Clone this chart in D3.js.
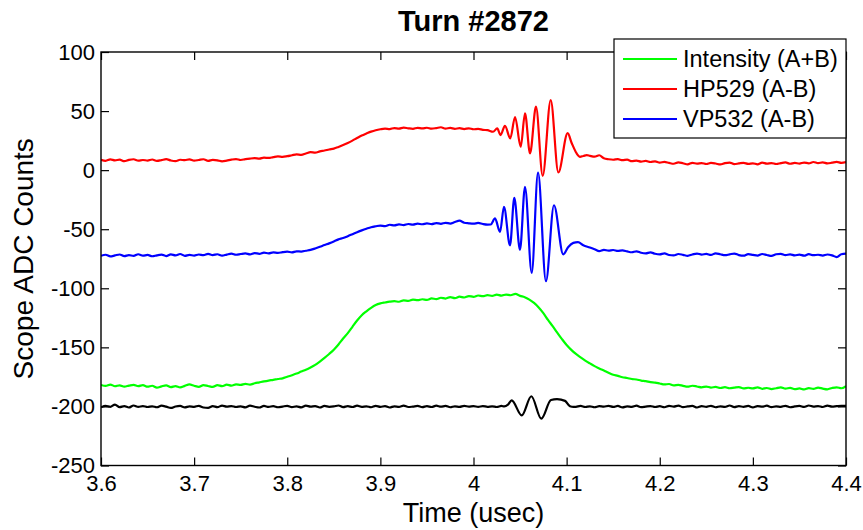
<!DOCTYPE html>
<html>
<head>
<meta charset="utf-8">
<script src="https://cdn.jsdelivr.net/npm/d3@7"></script>
<style>
  body { margin: 0; background: #fff; }
  svg { font-family: Arial, "Liberation Sans", sans-serif; }
</style>
</head>
<body>
<svg id="chart" width="863" height="530"></svg>
<script>
// scope samples: coarse record every 0.005 usec from 3.6, null where the burst detail takes over
const t0 = 3.6, dt = 0.005;

const xTicks = [3.6, 3.7, 3.8, 3.9, 4.0, 4.1, 4.2, 4.3, 4.4];
const yTicks = [100, 50, 0, -50, -100, -150, -200, -250];

const legendNames = ["Intensity (A+B)", "HP529 (A-B)", "VP532 (A-B)"];

const intensity = [
  -181.8, -182.6, -181.5, -182.9, -182.1, -183.2, -182.4, -181.7, -182.8, -182.0,
  -183.3, -182.5, -184.1, -183.0, -182.2, -183.6, -182.8, -183.9, -182.6, -181.4,
  -182.5, -183.4, -181.9, -182.7, -183.5, -182.0, -182.8, -181.6, -182.4, -181.3,
  -181.8, -180.9, -181.5, -180.4, -179.6, -178.8, -178.1, -177.5, -176.8, -176.2,
  -174.9, -173.6, -172.2, -170.5, -168.9, -167.0, -164.8, -162.0, -158.9, -155.6,
  -152.0, -147.6, -142.5, -138.0, -132.6, -127.3, -122.8, -119.5, -116.6, -114.2,
  -112.8, -112.0, -111.3, -110.9, -111.4, -110.2, -110.7, -109.6, -110.1, -109.3,
  -109.8, -108.6, -109.2, -108.0, -108.7, -107.5, -108.3, -107.1, -107.8, -106.6,
  -107.2, -106.1, -106.7, -105.8, -106.5, -105.4, -106.2, -105.3, -105.9, -104.8,
  -106.4, -107.5, -109.6, -112.4, -116.2, -121.0, -126.8, -132.0, -137.6, -143.0,
  -148.0, -152.1, -155.6, -158.5, -161.2, -163.6, -165.9, -167.8, -169.6, -171.5,
  -173.2, -174.1, -175.3, -175.9, -176.8, -177.2, -178.1, -178.6, -179.4, -179.8,
  -180.6, -181.4, -181.0, -182.2, -181.7, -182.6, -183.3, -182.5, -183.1, -183.8,
  -183.2, -184.0, -183.5, -184.4, -183.7, -184.6, -184.1, -183.6, -184.8, -184.2,
  -184.7, -183.9, -185.1, -184.4, -185.3, -184.6, -183.8, -185.0, -184.3, -185.4,
  -184.8, -185.6, -184.5, -185.2, -184.0, -184.9, -185.5, -184.4, -183.8, -184.6,
  -182.8
];

const hp529 = [
  8.8, 7.9, 9.1, 8.3, 8.9, 7.6, 8.7, 9.2, 8.0, 8.6,
  8.1, 9.0, 7.8, 8.5, 9.3, 8.2, 7.7, 8.8, 8.4, 9.1,
  8.0, 8.6, 9.2, 7.9, 8.7, 8.3, 7.5, 8.1, 8.9, 9.4,
  8.6, 9.3, 9.8, 10.1, 9.7, 10.6, 10.3, 11.0, 11.6, 11.2,
  11.8, 12.6, 13.4, 13.0, 14.1, 15.2, 14.8, 15.9, 16.6, 17.5,
  18.2, 19.6, 21.2, 23.0, 25.0, 27.2, 29.3, 31.0, 32.6, 33.8,
  34.6, 35.1, 34.8, 35.6, 35.2, 36.0, 35.4, 35.0, 35.8, 35.3,
  35.9, 35.1, 35.6, 36.3, 35.2, 35.7, 35.0, 35.5, 34.8, 35.4,
  34.6, 34.9, 34.1, null, null, null, null, null, null, null,
  null, null, null, null, null, null, null, null, null, null,
  null, null, null, null, null, 12.1, 11.4, 12.6, 10.0, 9.2,
  8.8, 9.3, 8.4, 8.9, 7.6, 8.1, 7.2, 7.8, 6.9, 7.4,
  6.3, 7.0, 6.1, 5.4, 6.6, 5.8, 4.9, 6.2, 5.5, 6.0,
  5.2, 6.1, 5.6, 4.8, 5.9, 6.4, 5.1, 5.7, 6.2, 5.3,
  5.8, 4.9, 6.3, 5.5, 6.0, 5.2, 5.9, 6.5, 5.4, 6.1,
  5.6, 6.4, 5.8, 6.9, 5.9, 6.6, 5.7, 6.3, 7.0, 6.2,
  6.8
];
// [time, counts] at the turning points of the HP529 burst
const hp529Burst = [
  [4.015, 33.8], [4.021, 32.5], [4.0255, 35.3], [4.029, 29.7], [4.0338, 37.5],
  [4.0395, 26.9], [4.0446, 45.0], [4.0507, 19.8], [4.0553, 48.0], [4.0607, 14.1],
  [4.0671, 53.7], [4.0743, -4.8], [4.0829, 59.3], [4.0911, -2.0], [4.1011, 31.3],
  [4.1054, 23.0], [4.1108, 14.1], [4.1144, 11.3], [4.118, 12.0], [4.1216, 12.7]
];

const vp532 = [
  -72.5, -71.6, -73.0, -72.2, -71.4, -72.8, -71.9, -72.6, -71.2, -72.4,
  -71.8, -72.9, -72.1, -71.5, -72.7, -71.3, -72.2, -71.0, -72.5, -71.7,
  -72.3, -71.4, -72.0, -70.8, -71.9, -71.2, -72.4, -71.5, -70.7, -71.6,
  -71.0, -70.5, -71.3, -70.2, -70.8, -69.8, -70.4, -69.6, -70.1, -69.4,
  -69.0, -69.6, -68.7, -68.9, -68.2, -67.5, -66.3, -64.9, -63.4, -62.0,
  -60.4, -58.6, -57.5, -55.9, -54.2, -52.5, -51.0, -49.6, -48.3, -47.5,
  -46.9, -47.4, -46.2, -46.8, -45.9, -46.5, -45.6, -46.1, -45.3, -45.8,
  -45.1, -45.7, -44.8, -45.4, -44.6, -45.2, -43.9, -42.8, -44.5, -45.0,
  -45.3, -44.7, -45.6, -46.1, null, null, null, null, null, null,
  null, null, null, null, null, null, null, null, null, null,
  null, null, null, null, null, -65.5, -67.0, -68.6, -67.5, -68.2,
  -67.6, -68.4, -67.9, -68.8, -69.5, -68.7, -69.9, -70.4, -69.6, -70.8,
  -71.3, -70.5, -71.8, -72.2, -71.0, -71.7, -72.5, -71.4, -70.6, -71.5,
  -70.9, -71.8, -70.4, -71.2, -72.0, -71.3, -70.6, -71.9, -72.4, -71.1,
  -71.7, -72.3, -71.0, -71.8, -72.6, -71.2, -70.8, -71.9, -71.3, -72.1,
  -71.5, -72.4, -71.1, -72.0, -71.6, -72.3, -71.4, -72.1, -73.6, -71.2,
  -70.6
];
const vp532Burst = [
  [4.0185, -46.0], [4.0231, -40.9], [4.0285, -52.3], [4.0327, -31.1], [4.0392, -63.6],
  [4.0438, -23.5], [4.0499, -67.5], [4.0553, -14.1], [4.0625, -87.0], [4.0693, -2.0],
  [4.0778, -94.0], [4.0864, -29.7], [4.0964, -71.3], [4.1018, -65.0], [4.1072, -61.6],
  [4.1122, -61.0], [4.1179, -63.6]
];

const sumRef = [
  -200.8, -199.5, -200.3, -198.4, -200.6, -199.8, -200.9, -199.2, -200.4, -199.7,
  -200.5, -199.9, -200.7, -199.4, -200.2, -201.3, -200.1, -199.6, -200.8, -199.9,
  -200.3, -199.5, -200.9, -201.2, -199.8, -200.6, -199.3, -200.2, -199.7, -200.5,
  -199.9, -200.8, -199.4, -200.3, -200.9, -199.6, -200.4, -199.8, -200.7, -200.1,
  -199.5, -200.6, -199.9, -200.8, -199.3, -200.2, -199.7, -200.9, -199.6, -200.3,
  -200.0, -199.2, -200.6, -199.8, -200.5, -199.4, -200.3, -199.9, -200.7, -199.5,
  -200.4, -199.7, -200.9, -199.9, -200.3, -199.3, -200.5, -200.1, -199.6, -200.6,
  -199.8, -200.5, -199.4, -200.2, -199.6, -200.7, -199.9, -200.4, -199.5, -200.2,
  -199.8, -200.4, -199.7, -200.3, -199.9, -200.5, -199.6, null, null, null,
  null, null, null, null, null, null, null, null, null, null,
  null, null, -200.3, -199.6, -200.5, -199.9, -200.7, -199.8, -200.2, -199.5,
  -200.4, -199.6, -200.8, -199.9, -200.3, -199.4, -200.6, -200.1, -199.7, -200.5,
  -199.8, -200.7, -199.5, -200.2, -199.3, -200.6, -200.0, -199.6, -200.9, -199.8,
  -200.3, -199.5, -200.7, -199.9, -200.4, -199.2, -200.6, -199.8, -200.3, -199.6,
  -200.8, -199.7, -200.2, -199.4, -200.6, -199.9, -200.3, -199.5, -200.7, -200.0,
  -199.6, -200.4, -199.2, -200.1, -199.7, -200.5, -199.3, -200.2, -199.8, -199.5,
  -199.6
];
const sumRefBurst = [
  [4.033, -200.0], [4.037, -198.5], [4.041, -194.9], [4.0518, -207.6], [4.0621, -191.4],
  [4.0728, -210.4], [4.0832, -194.6], [4.0897, -193.9], [4.0983, -195.3], [4.1036, -199.8],
  [4.1075, -200.4]
];

var width = 863, height = 530;
var plot = {left: 101, right: 846, top: 52, bottom: 465.5};

var svg = d3.select("#chart");

var x = d3.scaleLinear().domain([3.6, 4.4]).range([plot.left, plot.right]);
var y = d3.scaleLinear().domain([-250, 100]).range([plot.bottom, plot.top]);

function buildSeries(coarse, burst) {
  var pts = [];
  coarse.forEach(function(v, i) {
    if (v !== null) pts.push([t0 + i * dt, v]);
  });
  burst.forEach(function(p) { pts.push(p); });
  pts.sort(function(a, b) { return a[0] - b[0]; });
  return pts;
}

var series = [
  {pts: buildSeries(sumRef, sumRefBurst), color: "#000000"},
  {pts: buildSeries(intensity, []), color: "#00ff00"},
  {pts: buildSeries(hp529, hp529Burst), color: "#ff0000"},
  {pts: buildSeries(vp532, vp532Burst), color: "#0000ff"}
];

svg.append("defs").append("clipPath").attr("id", "clip")
  .append("rect")
  .attr("x", plot.left).attr("y", plot.top)
  .attr("width", plot.right - plot.left).attr("height", plot.bottom - plot.top);

var line = d3.line()
  .x(function(d) { return x(d[0]); })
  .y(function(d) { return y(d[1]); })
  .curve(d3.curveMonotoneX);

svg.append("g").attr("clip-path", "url(#clip)")
  .selectAll("path")
  .data(series)
  .enter()
  .append("path")
  .attr("d", function(d) { return line(d.pts); })
  .attr("fill", "none")
  .attr("stroke", function(d) { return d.color; })
  .attr("stroke-width", 2.2)
  .attr("stroke-linejoin", "round");

// axes, ticks pointing inward like matlab
var fmt = function(d) { return String(+d.toFixed(1)); };

var xAxis = svg.append("g")
  .attr("transform", "translate(0," + plot.bottom + ")")
  .call(d3.axisBottom(x).tickValues(xTicks).tickSize(-8).tickSizeOuter(0).tickPadding(10).tickFormat(fmt));
var xTop = svg.append("g")
  .attr("transform", "translate(0," + plot.top + ")")
  .call(d3.axisTop(x).tickValues(xTicks).tickSize(-8).tickSizeOuter(0).tickFormat(""));
var yAxis = svg.append("g")
  .attr("transform", "translate(" + plot.left + ",0)")
  .call(d3.axisLeft(y).tickValues(yTicks).tickSize(-8).tickSizeOuter(0).tickPadding(6).tickFormat(fmt));
var yRight = svg.append("g")
  .attr("transform", "translate(" + plot.right + ",0)")
  .call(d3.axisRight(y).tickValues(yTicks).tickSize(-8).tickSizeOuter(0).tickFormat(""));

[xAxis, xTop, yAxis, yRight].forEach(function(g) {
  g.select(".domain").remove();
  g.selectAll(".tick line").attr("stroke", "#000").attr("stroke-width", 1.2);
  g.selectAll("text")
    .attr("fill", "#000")
    .style("font-family", "Arial, 'Liberation Sans', sans-serif")
    .style("font-size", "22px");
});

svg.append("rect")
  .attr("x", plot.left).attr("y", plot.top)
  .attr("width", plot.right - plot.left).attr("height", plot.bottom - plot.top)
  .attr("fill", "none").attr("stroke", "#000").attr("stroke-width", 1.4);

// titles
svg.append("text")
  .attr("x", (plot.left + plot.right) / 2).attr("y", 31)
  .attr("text-anchor", "middle")
  .style("font-size", "29px").style("font-weight", "bold")
  .text("Turn #2872");

svg.append("text")
  .attr("x", (plot.left + plot.right) / 2).attr("y", 522)
  .attr("text-anchor", "middle")
  .style("font-size", "27px")
  .text("Time (usec)");

svg.append("text")
  .attr("transform", "translate(33," + ((plot.top + plot.bottom) / 2) + ") rotate(-90)")
  .attr("text-anchor", "middle")
  .style("font-size", "28px")
  .text("Scope ADC Counts");

// legend
var legendColors = ["#00ff00", "#ff0000", "#0000ff"];
var legend = svg.append("g");
legend.append("rect")
  .attr("x", 614).attr("y", 39).attr("width", 232).attr("height", 99)
  .attr("fill", "#fff").attr("stroke", "#000").attr("stroke-width", 1.2);

var rows = legend.selectAll(".row")
  .data(legendNames)
  .enter()
  .append("g")
  .attr("class", "row")
  .attr("transform", function(d, i) { return "translate(0," + (59 + i * 30) + ")"; });
rows.append("line")
  .attr("x1", 623).attr("x2", 677)
  .attr("stroke", function(d, i) { return legendColors[i]; })
  .attr("stroke-width", 2.2);
rows.append("text")
  .attr("x", 683).attr("dy", "0.35em")
  .style("font-size", "23.5px")
  .text(function(d) { return d; });
</script>
</body>
</html>
